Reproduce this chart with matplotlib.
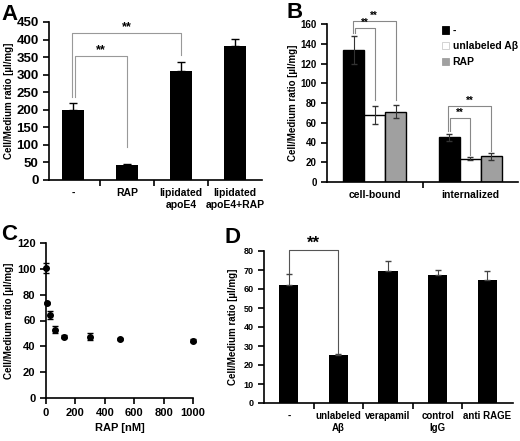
import numpy as np
import matplotlib

matplotlib.use("Agg")
import matplotlib.pyplot as plt
from matplotlib.patches import Patch

plt.rcParams["font.family"] = ["Liberation Sans", "DejaVu Sans"]
plt.rcParams["font.weight"] = "bold"

# panel A
A_labels = ["-", "RAP", "lipidated\napoE4", "lipidated\napoE4+RAP"]
A_values = [199, 44, 311, 381]
A_errors = [19, 2, 25, 20]

# panel B
B_groups = ["cell-bound", "internalized"]
B_series = ["-", "unlabeled Aβ", "RAP"]
B_control = [133.7, 45.1]
B_control_err = [14.2, 3.7]
B_unlabeled = [68.0, 23.6]
B_unlabeled_err = [8.8, 1.7]
B_rap = [71.1, 26.0]
B_rap_err = [6.7, 3.3]

# panel C
C_rap_nM = [0, 10, 30, 60, 125, 300, 500, 1000]
C_values = [100.6, 73.4, 64.5, 53.0, 47.5, 47.5, 45.8, 44.3]
C_errors = [4.0, 1.0, 3.0, 3.0, 1.0, 2.5, 1.0, 1.0]

# panel D
D_labels = ["-", "unlabeled\nAβ", "verapamil", "control\nIgG", "anti RAGE"]
D_values = [62.2, 25.4, 69.5, 67.4, 64.9]
D_errors = [5.5, 0.5, 5.5, 2.8, 4.6]

YLABEL = "Cell/Medium ratio [µl/mg]"
W, H = 520, 441


def px_axes(fig, x0, x1, y0, y1):
    return fig.add_axes([x0 / W, (H - y1) / H, (x1 - x0) / W, (y1 - y0) / H])


def style(ax):
    for s in ("top", "right"):
        ax.spines[s].set_visible(False)
    for s in ("left", "bottom"):
        ax.spines[s].set_linewidth(1.2)
    ax.tick_params(direction="out", width=1.2, length=4)


def cat_ticks(ax, n, labels, fs):
    ax.set_xticks(np.arange(n - 1) + 0.5)
    ax.set_xticklabels([])
    ax.set_xticks(np.arange(n), minor=True)
    ax.set_xticklabels(labels, minor=True, fontsize=fs, fontweight="bold")
    ax.tick_params(axis="x", which="minor", length=0, pad=6)


def bracket(ax, x1, x2, y, y1, y2, text, color, fs, dy=0):
    ax.plot([x1, x1, x2, x2], [y1, y, y, y2], color=color, lw=0.8, clip_on=False)
    ax.text((x1 + x2) / 2, y + dy, text, ha="center", va="bottom", fontsize=fs,
            fontweight="bold", clip_on=False)


def letter(fig, x, y, s):
    # y is the baseline, in pixels from the top
    fig.text(x / W, 1 - y / H, s, fontsize=16, fontweight="bold", va="baseline")


fig = plt.figure(figsize=(W / 100, H / 100), dpi=100)

# ---- A
ax = px_axes(fig, 49, 262, 22, 180)
style(ax)
xa = np.arange(len(A_values))
ax.bar(xa, A_values, width=0.4, color="black")
ax.errorbar(xa, A_values, yerr=[[0] * len(A_errors), A_errors], fmt="none",
            ecolor="black", elinewidth=1, capsize=3)
ax.set_xlim(-0.45, 3.5)
ax.set_ylim(0, 450)
ax.set_yticks(np.arange(0, 451, 50))
ax.tick_params(axis="y", labelsize=9.5)
cat_ticks(ax, 4, A_labels, 7.5)
ax.set_ylabel(YLABEL, fontsize=7, fontweight="bold", labelpad=2)
bracket(ax, -0.03, 2, 419, 236, 356, "**", "#999999", 9)
bracket(ax, 0.03, 1, 353, 236, 94, "**", "#999999", 9)
letter(fig, 1, 20, "A")

# ---- B
ax = px_axes(fig, 327, 518, 24, 182)
style(ax)
xb = np.arange(len(B_groups))
bw = 0.22
for off, vals, errs, col in [(-bw, B_control, B_control_err, "black"),
                             (0, B_unlabeled, B_unlabeled_err, "white"),
                             (bw, B_rap, B_rap_err, "#a0a0a0")]:
    ax.bar(xb + off, vals, width=bw, color=col, edgecolor="black", linewidth=1)
    ax.errorbar(xb + off, vals, yerr=errs, fmt="none", ecolor="#333333",
                elinewidth=0.8, capsize=2.5)
ax.set_xlim(-0.5, 1.5)
ax.set_ylim(0, 160)
ax.set_yticks(np.arange(0, 161, 20))
ax.tick_params(axis="y", labelsize=7)
cat_ticks(ax, 2, B_groups, 7.5)
ax.set_ylabel(YLABEL, fontsize=7, fontweight="bold", labelpad=2)
bracket(ax, -bw - 0.01, bw, 163.4, 151, 83, "**", "#888888", 7)
bracket(ax, -bw + 0.01, 0, 156, 151, 83, "**", "#888888", 7)
bracket(ax, 1 - bw - 0.01, 1 + bw, 77, 52, 31, "**", "#888888", 7)
bracket(ax, 1 - bw + 0.01, 1, 64.6, 52, 27, "**", "#888888", 7)
handles = [Patch(facecolor=c, edgecolor=e, linewidth=0.6) for c, e in
           [("black", "black"), ("white", "#cccccc"), ("#a0a0a0", "#a0a0a0")]]
ax.legend(handles, B_series, loc="upper left", bbox_to_anchor=(0.57, 1.03),
          frameon=False, fontsize=7.5, handlelength=0.7, handleheight=0.7,
          handletextpad=0.3, labelspacing=0.55, borderaxespad=0.2)
letter(fig, 286, 18, "B")

# ---- C
ax = px_axes(fig, 46, 193, 243, 398)
style(ax)
ax.errorbar(C_rap_nM, C_values, yerr=C_errors, fmt="o", color="black",
            markersize=4, elinewidth=0.8, capsize=2, clip_on=False, zorder=3)
ax.set_xlim(0, 1000)
ax.set_ylim(0, 120)
ax.set_xticks(np.arange(0, 1001, 200))
ax.set_yticks(np.arange(0, 121, 20))
ax.tick_params(labelsize=8)
ax.set_xlabel("RAP [nM]", fontsize=8, fontweight="bold", labelpad=3)
ax.set_ylabel(YLABEL, fontsize=7, fontweight="bold", labelpad=2)
letter(fig, 1, 240, "C")

# ---- D
ax = px_axes(fig, 264, 513, 251, 403)
style(ax)
xd = np.arange(len(D_values))
ax.bar(xd, D_values, width=0.39, color="black")
ax.errorbar(xd, D_values, yerr=[[0] * len(D_errors), D_errors], fmt="none",
            ecolor="#444444", elinewidth=0.8, capsize=2.5)
ax.set_xlim(-0.5, 4.52)
ax.set_ylim(0, 80)
ax.set_yticks(np.arange(0, 81, 10))
ax.tick_params(axis="y", labelsize=6.5)
cat_ticks(ax, 5, D_labels, 7)
ax.set_ylabel(YLABEL, fontsize=7, fontweight="bold", labelpad=4)
bracket(ax, 0, 1, 80.5, 68.5, 26.5, "**", "#555555", 12, dy=-0.5)
letter(fig, 224, 243, "D")

fig.savefig("out.png", dpi=100)
